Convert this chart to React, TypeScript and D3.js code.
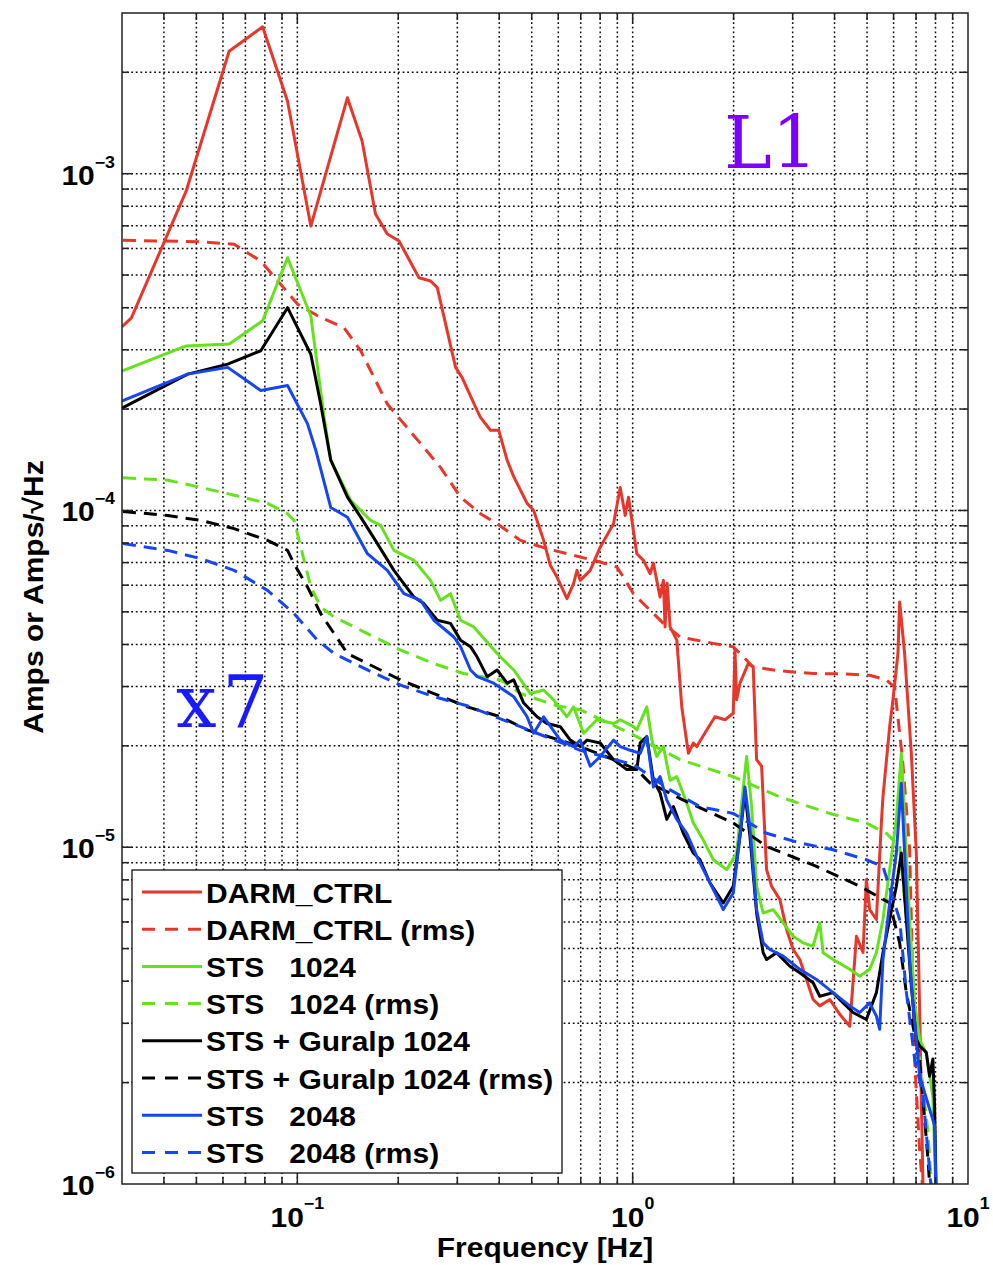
import React from 'react';
import * as d3 from 'd3';

type Pt = [number, number];

// ---------------- data (frequency [Hz], amplitude) ----------------
const darmCtrl: Pt[] = [
  [0.0302, 3.53e-4], [0.032, 3.73e-4], [0.0466, 8.87e-4], [0.0626, 2.31e-3], [0.0788, 2.73e-3],
  [0.0935, 1.64e-3], [0.1097, 6.99e-4], [0.141, 1.68e-3], [0.156, 1.25e-3], [0.171, 7.59e-4],
  [0.1855, 6.62e-4], [0.201, 6.31e-4], [0.2305, 4.91e-4], [0.2496, 4.8e-4], [0.2614, 4.59e-4],
  [0.2964, 2.66e-4], [0.31, 2.48e-4], [0.3438, 1.98e-4], [0.3517, 1.89e-4], [0.3766, 1.73e-4],
  [0.3987, 1.73e-4], [0.4223, 1.41e-4], [0.4418, 1.26e-4], [0.4843, 1.05e-4], [0.5067, 1.0e-4],
  [0.5426, 8.15e-5], [0.568, 6.87e-5], [0.5948, 6.34e-5], [0.6369, 5.47e-5], [0.6665, 6.07e-5],
  [0.6823, 6.64e-5], [0.6978, 6.2e-5], [0.7472, 6.64e-5], [0.8002, 7.78e-5], [0.8768, 9.13e-5],
  [0.918, 1.17e-4], [0.95, 9.67e-5], [0.9716, 1.095e-4], [1.029, 7.44e-5], [1.077, 7.11e-5],
  [1.127, 6.49e-5], [1.153, 6.97e-5], [1.207, 5.53e-5], [1.235, 6.2e-5], [1.249, 4.51e-5],
  [1.267, 6.08e-5], [1.293, 4.51e-5], [1.354, 4.12e-5], [1.401, 2.61e-5], [1.466, 1.9e-5],
  [1.517, 2.04e-5], [1.553, 1.99e-5], [1.663, 2.23e-5], [1.76, 2.44e-5], [1.885, 2.39e-5],
  [1.995, 2.5e-5], [2.019, 3.85e-5], [2.042, 2.74e-5], [2.089, 3.07e-5], [2.211, 3.51e-5],
  [2.288, 3.43e-5], [2.342, 1.82e-5], [2.424, 1.74e-5], [2.508, 8.58e-6], [2.596, 7.66e-6],
  [2.748, 6.99e-6], [2.877, 5.7e-6], [3.01, 4.97e-6], [3.151, 4.64e-6], [3.3, 4.05e-6],
  [3.452, 3.53e-6], [3.614, 3.38e-6], [3.871, 3.53e-6], [4.146, 3.19e-6], [4.44, 2.94e-6],
  [4.649, 5.44e-6], [4.863, 4.87e-6], [4.977, 8.01e-6], [5.091, 6.53e-6], [5.331, 6.1e-6],
  [5.516, 1.18e-5], [5.577, 1.41e-5], [5.84, 2.28e-5], [5.974, 2.74e-5], [6.182, 3.76e-5],
  [6.254, 5.35e-5], [6.471, 3.76e-5], [6.776, 1.9e-5], [7.013, 9.61e-6], [7.174, 3.3e-6],
  [7.373, 8e-7],
];

const darmCtrlRms: Pt[] = [
  [0.0302, 6.34e-4], [0.0505, 6.28e-4], [0.0648, 6.17e-4], [0.0778, 5.5e-4], [0.0893, 4.69e-4],
  [0.1001, 4.1e-4], [0.1174, 3.74e-4], [0.1378, 3.49e-4], [0.1545, 2.98e-4], [0.1855, 2.07e-4],
  [0.2331, 1.58e-4], [0.2675, 1.34e-4], [0.3067, 1.095e-4], [0.3517, 9.78e-5], [0.3942, 9.13e-5],
  [0.4628, 8.15e-5], [0.5555, 7.7e-5], [0.6665, 7.36e-5], [0.8002, 7.03e-5], [0.8974, 6.79e-5],
  [0.9305, 6.42e-5], [1.0055, 5.66e-5], [1.102, 5.17e-5], [1.235, 4.62e-5], [1.385, 4.21e-5],
  [1.74, 4.03e-5], [1.995, 3.94e-5], [2.288, 3.43e-5], [2.748, 3.34e-5], [3.452, 3.28e-5],
  [4.34, 3.27e-5], [5.091, 3.24e-5], [5.707, 3.14e-5], [6.042, 2.99e-5], [6.38, 1.82e-5],
  [6.7, 9.8e-6], [6.93, 2.34e-6], [7.17, 1.27e-6], [7.44, 8e-7],
];

const sts1024: Pt[] = [
  [0.0302, 2.6e-4], [0.0466, 3.08e-4], [0.0627, 3.12e-4], [0.0788, 3.66e-4], [0.0935, 5.63e-4],
  [0.1097, 3.78e-4], [0.1202, 1.89e-4], [0.1258, 1.41e-4], [0.1443, 1.07e-4], [0.1655, 9.34e-5],
  [0.1772, 9.03e-5], [0.1941, 7.61e-5], [0.2227, 7.11e-5], [0.2496, 6.2e-5], [0.2675, 5.41e-5],
  [0.2862, 5.66e-5], [0.3067, 4.72e-5], [0.3359, 4.51e-5], [0.3943, 3.76e-5], [0.4418, 3.36e-5],
  [0.4953, 2.86e-5], [0.5426, 2.93e-5], [0.5811, 2.74e-5], [0.6369, 2.44e-5], [0.6665, 2.61e-5],
  [0.7138, 2.18e-5], [0.7824, 2.39e-5], [0.8768, 2.33e-5], [0.918, 2.39e-5], [1.0055, 2.28e-5],
  [1.029, 2.23e-5], [1.102, 2.61e-5], [1.141, 2.08e-5], [1.18, 1.86e-5], [1.235, 1.99e-5],
  [1.293, 1.58e-5], [1.354, 1.62e-5], [1.45, 1.35e-5], [1.517, 1.18e-5], [1.624, 1.05e-5],
  [1.74, 9.18e-6], [1.907, 8.58e-6], [2.042, 9.61e-6], [2.113, 1.35e-5], [2.187, 1.86e-5],
  [2.263, 1.32e-5], [2.342, 7.66e-6], [2.45, 6.38e-6], [2.624, 6.53e-6], [2.811, 5.96e-6],
  [3.01, 5.44e-6], [3.223, 5.2e-6], [3.452, 5.08e-6], [3.614, 5.96e-6], [3.698, 4.86e-6],
  [3.96, 4.64e-6], [4.44, 4.34e-6], [4.754, 4.14e-6], [5.091, 4.34e-6], [5.331, 4.86e-6],
  [5.577, 6.1e-6], [5.84, 8.58e-6], [6.114, 1.21e-5], [6.327, 1.9e-5], [6.471, 1.21e-5],
  [6.698, 6.1e-6], [6.932, 3.45e-6], [7.174, 2.69e-6], [7.51, 2.44e-6], [7.857, 1.82e-6],
  [8.06, 8e-7],
];

const sts1024Rms: Pt[] = [
  [0.0302, 1.25e-4], [0.0411, 1.23e-4], [0.0516, 1.17e-4], [0.0648, 1.11e-4], [0.0815, 1.05e-4],
  [0.0935, 9.78e-5], [0.0978, 9.34e-5], [0.1024, 7.78e-5], [0.1097, 5.93e-5], [0.1174, 5.17e-5],
  [0.1287, 4.83e-5], [0.1618, 4.31e-5], [0.2032, 3.85e-5], [0.2553, 3.51e-5], [0.3137, 3.28e-5],
  [0.4034, 3.14e-5], [0.4626, 2.86e-5], [0.5948, 2.63e-5], [0.6978, 2.56e-5], [0.983, 2.18e-5],
  [1.385, 1.82e-5], [1.995, 1.62e-5], [2.748, 1.41e-5], [3.871, 1.26e-5], [4.977, 1.18e-5],
  [5.707, 1.1e-5], [6.254, 1.005e-5], [6.471, 6.99e-6], [6.8, 4.05e-6], [7.174, 2.35e-6],
  [7.59, 1.44e-6], [7.9, 8e-7],
];

const stsGuralp: Pt[] = [
  [0.0302, 2.02e-4], [0.0471, 2.54e-4], [0.062, 2.72e-4], [0.0778, 2.98e-4], [0.0935, 4.0e-4],
  [0.1097, 2.91e-4], [0.1174, 2.07e-4], [0.1258, 1.41e-4], [0.1411, 1.095e-4], [0.1545, 9.55e-5],
  [0.1733, 7.97e-5], [0.1941, 6.64e-5], [0.2227, 5.53e-5], [0.2384, 5.29e-5], [0.2614, 4.72e-5],
  [0.2862, 4.62e-5], [0.3067, 4.12e-5], [0.3284, 3.94e-5], [0.3438, 3.67e-5], [0.3682, 3.21e-5],
  [0.3943, 3.36e-5], [0.4223, 3.07e-5], [0.4418, 3.14e-5], [0.4732, 2.68e-5], [0.5186, 2.44e-5],
  [0.5554, 2.33e-5], [0.6084, 2.28e-5], [0.6516, 2.08e-5], [0.6978, 1.99e-5], [0.7306, 2.08e-5],
  [0.8002, 2.04e-5], [0.8768, 1.82e-5], [0.961, 1.7e-5], [1.029, 1.7e-5], [1.053, 2.04e-5],
  [1.102, 2.13e-5], [1.153, 1.58e-5], [1.207, 1.45e-5], [1.264, 1.21e-5], [1.323, 1.32e-5],
  [1.416, 1.1e-5], [1.517, 9.61e-6], [1.588, 9.18e-6], [1.701, 7.83e-6], [1.781, 7.31e-6],
  [1.863, 6.83e-6], [1.995, 7.66e-6], [2.089, 1.08e-5], [2.162, 1.45e-5], [2.237, 1.08e-5],
  [2.342, 6.38e-6], [2.45, 4.86e-6], [2.508, 4.64e-6], [2.686, 4.86e-6], [2.943, 4.43e-6],
  [3.151, 4.24e-6], [3.452, 3.96e-6], [3.614, 3.61e-6], [3.96, 3.7e-6], [4.242, 3.45e-6],
  [4.541, 3.23e-6], [4.977, 3.08e-6], [5.331, 3.7e-6], [5.577, 4.86e-6], [5.84, 6.1e-6],
  [6.114, 7.66e-6], [6.327, 9.61e-6], [6.548, 6.1e-6], [6.776, 3.87e-6], [7.013, 2.69e-6],
  [7.174, 2.57e-6], [7.51, 2.46e-6], [7.682, 2.09e-6], [7.857, 2.35e-6], [7.95, 1.71e-6],
  [8.06, 8e-7],
];

const stsGuralpRms: Pt[] = [
  [0.0302, 9.93e-5], [0.0411, 9.66e-5], [0.0516, 9.34e-5], [0.0648, 8.83e-5], [0.0815, 8.15e-5],
  [0.0935, 7.61e-5], [0.0978, 6.95e-5], [0.1072, 5.93e-5], [0.1174, 4.94e-5], [0.1287, 4.31e-5],
  [0.1411, 3.76e-5], [0.1618, 3.51e-5], [0.2032, 3.14e-5], [0.2553, 2.86e-5], [0.3211, 2.61e-5],
  [0.4034, 2.44e-5], [0.4843, 2.23e-5], [0.6978, 1.99e-5], [0.8768, 1.82e-5], [1.029, 1.7e-5],
  [1.127, 1.55e-5], [1.416, 1.38e-5], [1.995, 1.18e-5], [2.508, 1.005e-5], [3.533, 8.77e-6],
  [4.754, 7.66e-6], [5.84, 6.83e-6], [6.254, 5.2e-6], [6.548, 3.7e-6], [7.174, 2.35e-6],
  [7.594, 1.19e-6], [7.8, 8e-7],
];

const sts2048: Pt[] = [
  [0.0302, 2.12e-4], [0.0471, 2.54e-4], [0.062, 2.66e-4], [0.0778, 2.27e-4], [0.0935, 2.35e-4],
  [0.1072, 1.81e-4], [0.1135, 1.51e-4], [0.1258, 1.02e-4], [0.1411, 9.55e-5], [0.1618, 7.44e-5],
  [0.1855, 6.64e-5], [0.2079, 5.66e-5], [0.2331, 5.41e-5], [0.2553, 4.72e-5], [0.2929, 4.21e-5],
  [0.3067, 3.94e-5], [0.3284, 3.36e-5], [0.3438, 3.21e-5], [0.3852, 3.07e-5], [0.4418, 2.8e-5],
  [0.4843, 2.44e-5], [0.5067, 2.18e-5], [0.5426, 2.44e-5], [0.6084, 2.08e-5], [0.6665, 1.99e-5],
  [0.6978, 2.08e-5], [0.7472, 1.74e-5], [0.8002, 1.86e-5], [0.8768, 2.08e-5], [0.918, 1.99e-5],
  [0.983, 1.94e-5], [1.053, 1.9e-5], [1.102, 2.13e-5], [1.153, 1.51e-5], [1.207, 1.62e-5],
  [1.264, 1.38e-5], [1.354, 1.21e-5], [1.45, 1.1e-5], [1.553, 9.39e-6], [1.663, 8.19e-6],
  [1.781, 7.15e-6], [1.863, 6.53e-6], [1.995, 7.31e-6], [2.089, 1.08e-5], [2.162, 1.51e-5],
  [2.237, 1.15e-5], [2.342, 6.53e-6], [2.45, 5.2e-6], [2.566, 4.97e-6], [2.811, 4.75e-6],
  [3.151, 4.34e-6], [3.533, 4.05e-6], [3.96, 3.7e-6], [4.44, 3.38e-6], [4.754, 3.23e-6],
  [5.091, 3.45e-6], [5.331, 3.15e-6], [5.453, 2.88e-6], [5.577, 4.64e-6], [5.84, 6.83e-6],
  [6.114, 9.61e-6], [6.327, 1.55e-5], [6.471, 9.61e-6], [6.698, 4.64e-6], [6.851, 3.45e-6],
  [7.174, 2.09e-6], [7.682, 1.67e-6], [7.95, 1.49e-6], [8.06, 8e-7],
];

const sts2048Rms: Pt[] = [
  [0.0302, 7.97e-5], [0.0411, 7.61e-5], [0.0516, 7.19e-5], [0.0648, 6.64e-5], [0.0815, 5.79e-5],
  [0.0978, 4.94e-5], [0.1148, 4.12e-5], [0.1287, 3.76e-5], [0.1618, 3.36e-5], [0.2032, 3.03e-5],
  [0.2553, 2.8e-5], [0.3211, 2.63e-5], [0.4626, 2.28e-5], [0.6978, 1.94e-5], [1.0055, 1.76e-5],
  [1.293, 1.48e-5], [1.588, 1.32e-5], [1.995, 1.26e-5], [2.508, 1.1e-5], [3.151, 1.03e-5],
  [3.96, 9.83e-6], [4.977, 9.18e-6], [5.577, 8.77e-6], [6.254, 6.1e-6], [6.548, 3.72e-6],
  [6.932, 2.35e-6], [7.34, 1.84e-6], [7.68, 1.1e-6], [7.9, 8e-7],
];

const legendLabels = [
  'DARM_CTRL', 'DARM_CTRL (rms)', 'STS   1024', 'STS   1024 (rms)',
  'STS + Guralp 1024', 'STS + Guralp 1024 (rms)', 'STS   2048', 'STS   2048 (rms)',
];
const xTickLabelValues = [0.1, 1, 10];
const yTickLabelValues = [1e-6, 1e-5, 1e-4, 1e-3];

const RED = '#e8362a';
const GREEN = '#64e21c';
const BLACK = '#000000';
const BLUE = '#1546f2';

const seriesList = [
  { data: darmCtrl, color: RED, dashed: false },
  { data: darmCtrlRms, color: RED, dashed: true },
  { data: sts1024, color: GREEN, dashed: false },
  { data: sts1024Rms, color: GREEN, dashed: true },
  { data: stsGuralp, color: BLACK, dashed: false },
  { data: stsGuralpRms, color: BLACK, dashed: true },
  { data: sts2048, color: BLUE, dashed: false },
  { data: sts2048Rms, color: BLUE, dashed: true },
];

const W = 993;
const H = 1265;
const PL = 122, PR = 968, PT = 13, PB = 1184;
const FONT = "'Liberation Sans', Arial, Helvetica, sans-serif";
const FS = 27;
const SX = 1.11;
const DASH = '13,8';

function sup(v: number): string {
  const e = Math.round(Math.log10(v));
  return e < 0 ? '\u2212' + Math.abs(e) : String(e);
}

export default function App() {
  const x = d3.scaleLog().domain([0.03, 10]).range([PL, PR]);
  const y = d3.scaleLog().domain([1e-6, 3e-3]).range([PB, PT]);
  const xTicks = x.ticks().filter((v) => v > 0.03 * 1.001 && v < 10 * 0.999);
  const yTicks = y.ticks().filter((v) => v > 1e-6 * 1.001 && v < 3e-3 * 0.999);
  const isMajor = (v: number) => Math.abs(Math.log10(v) - Math.round(Math.log10(v))) < 1e-6;
  const line = d3.line<Pt>().x((d) => x(d[0])).y((d) => y(d[1]));

  const gridStyle = { stroke: '#000', strokeWidth: 1.5, strokeDasharray: '1.8,2.8', opacity: 0.95 };
  const legX = 132, legY = 870, legW = 430, legH = 303;
  const rowY0 = 892, rowStep = 37.2;

  return (
    <svg width={W} height={H} style={{ position: 'absolute', left: 0, top: 0, background: '#fff' }}
      xmlns="http://www.w3.org/2000/svg">
      <defs>
        <clipPath id="plotclip">
          <rect x={PL} y={PT} width={PR - PL} height={PB - PT} />
        </clipPath>
      </defs>
      <rect x={0} y={0} width={W} height={H} fill="#fff" />

      {/* grid */}
      <g>
        {xTicks.map((v, i) => (
          <line key={'gx' + i} x1={x(v)} x2={x(v)} y1={PT} y2={PB} {...gridStyle} />
        ))}
        {yTicks.map((v, i) => (
          <line key={'gy' + i} x1={PL} x2={PR} y1={y(v)} y2={y(v)} {...gridStyle} />
        ))}
      </g>

      {/* curves */}
      <g clipPath="url(#plotclip)">
        {seriesList.map((s, i) => (
          <path key={'s' + i} d={line(s.data) || ''} fill="none" stroke={s.color}
            strokeWidth={3} strokeDasharray={s.dashed ? DASH : undefined}
            strokeLinejoin="round" strokeLinecap={s.dashed ? 'butt' : 'round'} />
        ))}
      </g>

      {/* axes box and ticks */}
      <g stroke="#222" strokeWidth={1.5}>
        <rect x={PL} y={PT} width={PR - PL} height={PB - PT} fill="none" />
        {xTicks.map((v, i) => {
          const len = isMajor(v) ? 10 : 7;
          return (
            <g key={'tx' + i}>
              <line x1={x(v)} x2={x(v)} y1={PB} y2={PB - len} />
              <line x1={x(v)} x2={x(v)} y1={PT} y2={PT + len} />
            </g>
          );
        })}
        {yTicks.map((v, i) => {
          const len = isMajor(v) ? 10 : 7;
          return (
            <g key={'ty' + i}>
              <line x1={PL} x2={PL + len} y1={y(v)} y2={y(v)} />
              <line x1={PR} x2={PR - len} y1={y(v)} y2={y(v)} />
            </g>
          );
        })}
      </g>

      {/* tick labels */}
      <g fontFamily={FONT} fontWeight="bold" fill="#000">
        {yTickLabelValues.map((v, i) => (
          <g key={'yl' + i} transform={`translate(115,${y(v) + 11}) scale(${SX},1)`}>
            <text textAnchor="end">
              <tspan fontSize={FS}>10</tspan>
              <tspan fontSize={16} dy={-17}>{sup(v)}</tspan>
            </text>
          </g>
        ))}
        {xTickLabelValues.map((v, i) => (
          <g key={'xl' + i} transform={`translate(${x(v)},1227) scale(${SX},1)`}>
            <text textAnchor="middle">
              <tspan fontSize={FS}>10</tspan>
              <tspan fontSize={16} dy={-18}>{sup(v)}</tspan>
            </text>
          </g>
        ))}
        <g transform={`translate(${(PL + PR) / 2},1257) scale(${SX},1)`}>
          <text textAnchor="middle" fontSize={FS}>Frequency [Hz]</text>
        </g>
        <g transform={`translate(43,597) rotate(-90) scale(${SX},1)`}>
          <text textAnchor="middle" fontSize={FS}>Amps or Amps/√Hz</text>
        </g>
      </g>

      {/* annotations */}
      <text x={724} y={168} fontFamily="'DejaVu Serif', serif" fontSize={72} fill="#7d00ff">L1</text>
      <text x={176} y={727} fontFamily="'DejaVu Serif', serif" fontSize={72} letterSpacing={6} fill="#1a1aff">x7</text>

      {/* legend */}
      <g>
        <rect x={legX} y={legY} width={legW} height={legH} fill="#fff" stroke="#111" strokeWidth={1.3} />
        {seriesList.map((s, i) => {
          const cy = rowY0 + i * rowStep;
          return (
            <g key={'lg' + i}>
              <line x1={142} x2={202} y1={cy} y2={cy} stroke={s.color} strokeWidth={3}
                strokeDasharray={s.dashed ? '13,10' : undefined} />
              <g transform={`translate(206,${cy + 10.5}) scale(${SX},1)`}>
                <text fontFamily={FONT} fontWeight="bold" fontSize={FS} fill="#000"
                  xmlSpace="preserve" style={{ whiteSpace: 'pre' }}>{legendLabels[i]}</text>
              </g>
            </g>
          );
        })}
      </g>
    </svg>
  );
}
